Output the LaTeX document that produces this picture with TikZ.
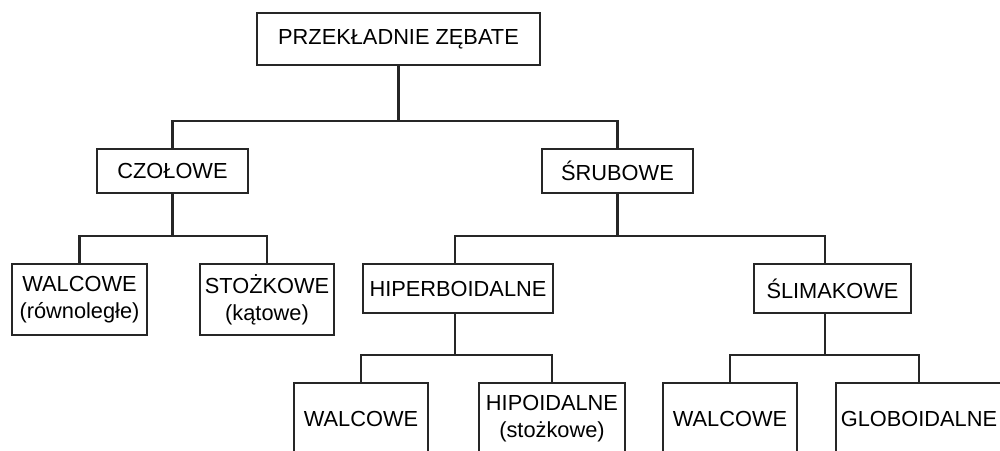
\documentclass[tikz,border=0pt]{standalone}
\usepackage{fontspec}
\setmainfont{Liberation Sans}
\usetikzlibrary{positioning}

\begin{document}
\begin{tikzpicture}[
  x=0.025cm, y=-0.025cm,
  line width=1.6pt, draw=black!85,
  box/.style={draw=black!85, line width=1.6pt, rectangle, align=center, inner sep=2pt,
    font=\fontsize{15.5}{19}\selectfont},
  link/.style={draw=black!85, line width=1.6pt}
]
\useasboundingbox (0,0) rectangle (1000,450);
% level 0
\node[box, minimum width=7.075cm, minimum height=1.3cm] (root) at (398.5,39) {PRZEKŁADNIE ZĘBATE};
% level 1
\node[box, minimum width=3.775cm, minimum height=1.1cm] (czol) at (172.5,171) {CZOŁOWE};
\node[box, minimum width=3.775cm, minimum height=1.1cm] (srub) at (617.5,171) {ŚRUBOWE};
% level 2
\node[box, minimum width=3.375cm, minimum height=1.775cm] (walcA) at (79.5,299.5) {WALCOWE\\(równoległe)};
\node[box, minimum width=3.35cm, minimum height=1.775cm] (stoz) at (267,299.5) {STOŻKOWE\\(kątowe)};
\node[box, minimum width=4.75cm, minimum height=1.225cm] (hiper) at (458,288.5) {HIPERBOIDALNE};
\node[box, minimum width=3.925cm, minimum height=1.225cm] (slim) at (832.5,288.5) {ŚLIMAKOWE};
% level 3
\node[box, minimum width=3.35cm, minimum height=1.775cm] (walcB) at (361,418.5) {WALCOWE};
\node[box, minimum width=3.65cm, minimum height=1.775cm] (hipo) at (552,418.5) {HIPOIDALNE\\(stożkowe)};
\node[box, minimum width=3.35cm, minimum height=1.775cm] (walcC) at (730,418.5) {WALCOWE};
\node[box, minimum width=4.15cm, minimum height=1.775cm] (glob) at (919,418.5) {GLOBOIDALNE};

% bars
\coordinate (bar0) at (0,121);
\coordinate (bar1) at (0,236);
\coordinate (bar2) at (0,355);
\draw[link] (root.south) -- (root.south |- bar0);
\draw[link] (czol.north) |- (root.south |- bar0) -| (srub.north);
\draw[link] (czol.south) -- (czol.south |- bar1);
\draw[link] (walcA.north) |- (czol.south |- bar1) -| (stoz.north);
\draw[link] (srub.south) -- (srub.south |- bar1);
\draw[link] ([xshift=-0.075cm]hiper.north) |- (srub.south |- bar1) -| ([xshift=-0.19cm]slim.north);
\draw[link] ([xshift=-0.075cm]hiper.south) -- ([xshift=-0.075cm]hiper.south |- bar2);
\draw[link] (walcB.north) |- ([xshift=-0.075cm]hiper.south |- bar2) -| (hipo.north);
\draw[link] ([xshift=-0.19cm]slim.south) -- ([xshift=-0.19cm]slim.south |- bar2);
\draw[link] (walcC.north) |- ([xshift=-0.19cm]slim.south |- bar2) -| (glob.north);
\end{tikzpicture}
\end{document}
